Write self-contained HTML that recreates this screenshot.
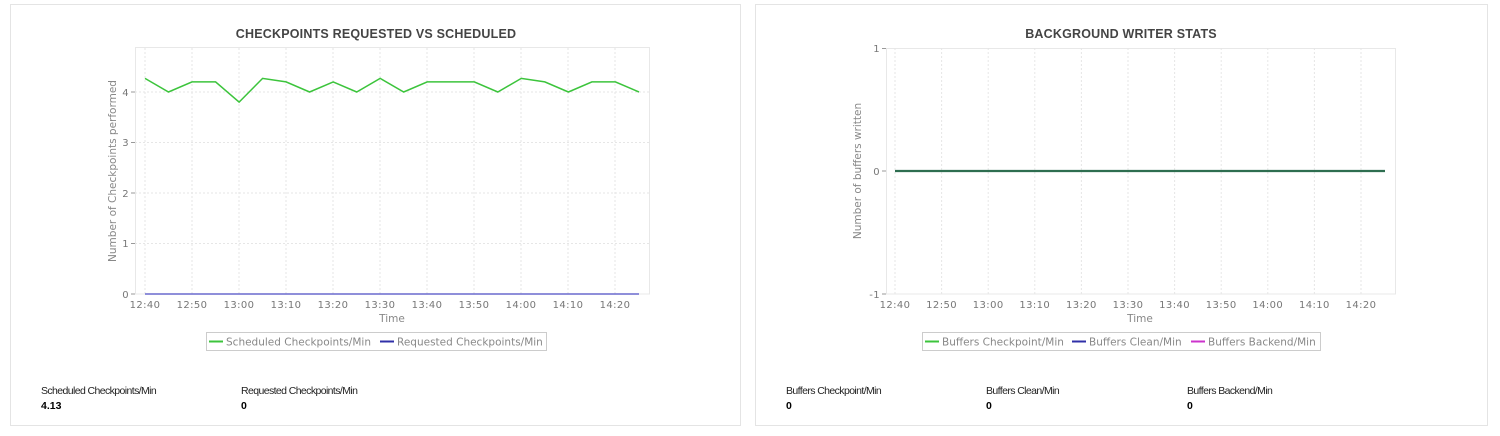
<!DOCTYPE html>
<html><head><meta charset="utf-8"><style>
html,body{margin:0;padding:0;background:#fff;width:1500px;height:436px;overflow:hidden}
svg{display:block}
text{font-family:"DejaVu Sans","Liberation Sans",sans-serif}
.t{font-family:"Liberation Sans",sans-serif;font-weight:bold;font-size:12.5px;fill:#444;letter-spacing:0.2px}
.tk{font-size:10px;fill:#777;letter-spacing:0.4px}
.lb{font-size:10.5px;fill:#888}
.lg{font-size:10.5px;fill:#888}
.s{font-family:"Liberation Sans",sans-serif;font-size:10.5px;fill:#222;letter-spacing:-0.6px}
.v{font-family:"Liberation Sans",sans-serif;font-size:10.5px;fill:#000;font-weight:bold}
.g{stroke:#e6e6e6;stroke-dasharray:2,2;stroke-width:1}
</style></head><body>
<svg width="1500" height="436" xmlns="http://www.w3.org/2000/svg">
<rect x="10.5" y="4.5" width="730" height="421" fill="#fff" stroke="#e4e4e4"/>
<rect x="755.5" y="4.5" width="732" height="421" fill="#fff" stroke="#e4e4e4"/>

<!-- LEFT CHART -->
<text class="t" x="376" y="38" text-anchor="middle">CHECKPOINTS REQUESTED VS SCHEDULED</text>
<rect x="135.5" y="47.5" width="514" height="246.5" fill="#fff" stroke="#e8e8e8"/>
<g class="g">
<line x1="145" y1="48" x2="145" y2="294"/><line x1="192" y1="48" x2="192" y2="294"/><line x1="239" y1="48" x2="239" y2="294"/><line x1="286" y1="48" x2="286" y2="294"/><line x1="333" y1="48" x2="333" y2="294"/><line x1="380" y1="48" x2="380" y2="294"/><line x1="427" y1="48" x2="427" y2="294"/><line x1="474" y1="48" x2="474" y2="294"/><line x1="521" y1="48" x2="521" y2="294"/><line x1="568" y1="48" x2="568" y2="294"/><line x1="615" y1="48" x2="615" y2="294"/>
<line x1="135" y1="92" x2="649" y2="92"/><line x1="135" y1="142.5" x2="649" y2="142.5"/><line x1="135" y1="193" x2="649" y2="193"/><line x1="135" y1="243.5" x2="649" y2="243.5"/>
</g>
<g stroke="#999"><line x1="131" y1="92" x2="135" y2="92"/><line x1="131" y1="142.5" x2="135" y2="142.5"/><line x1="131" y1="193" x2="135" y2="193"/><line x1="131" y1="243.5" x2="135" y2="243.5"/><line x1="131" y1="294" x2="135" y2="294"/></g>
<g class="tk" text-anchor="end"><text x="129" y="96">4</text><text x="129" y="146">3</text><text x="129" y="197">2</text><text x="129" y="247">1</text><text x="129" y="298">0</text></g>
<g class="tk" text-anchor="middle"><text x="145" y="308">12:40</text><text x="192" y="308">12:50</text><text x="239" y="308">13:00</text><text x="286" y="308">13:10</text><text x="333" y="308">13:20</text><text x="380" y="308">13:30</text><text x="427" y="308">13:40</text><text x="474" y="308">13:50</text><text x="521" y="308">14:00</text><text x="568" y="308">14:10</text><text x="615" y="308">14:20</text></g>
<text class="lb" x="392" y="322" text-anchor="middle">Time</text>
<text class="lb" transform="translate(116,171) rotate(-90)" text-anchor="middle">Number of Checkpoints performed</text>
<line x1="145" y1="294" x2="639" y2="294" stroke="#6a6acd" stroke-width="1.5"/>
<polyline fill="none" stroke="#3cc43c" stroke-width="1.5" points="145,78.4 168.5,92 192,81.9 215.6,81.9 239.1,102.1 262.6,78.4 286.1,81.9 309.6,92 333.2,81.9 356.7,92 380.2,78.4 403.7,92 427.2,81.9 450.8,81.9 474.3,81.9 497.8,92 521.3,78.4 544.8,81.9 568.4,92 591.9,81.9 615.4,81.9 639,92"/>
<rect x="206.5" y="332.5" width="340" height="18" fill="#fff" stroke="#ccc"/>
<line x1="209" y1="341.5" x2="223" y2="341.5" stroke="#3cc43c" stroke-width="2"/>
<text class="lg" x="226" y="345.5">Scheduled Checkpoints/Min</text>
<line x1="380" y1="341.5" x2="394" y2="341.5" stroke="#3030a8" stroke-width="2"/>
<text class="lg" x="397" y="345.5">Requested Checkpoints/Min</text>
<text class="s" x="41" y="394">Scheduled Checkpoints/Min</text>
<text class="v" x="41" y="409">4.13</text>
<text class="s" x="241" y="394">Requested Checkpoints/Min</text>
<text class="v" x="241" y="409">0</text>

<!-- RIGHT CHART -->
<text class="t" x="1121" y="38" text-anchor="middle">BACKGROUND WRITER STATS</text>
<rect x="886.5" y="48.5" width="509" height="245.5" fill="#fff" stroke="#e8e8e8"/>
<g class="g">
<line x1="895" y1="48" x2="895" y2="294"/><line x1="941.6" y1="48" x2="941.6" y2="294"/><line x1="988.2" y1="48" x2="988.2" y2="294"/><line x1="1034.8" y1="48" x2="1034.8" y2="294"/><line x1="1081.4" y1="48" x2="1081.4" y2="294"/><line x1="1128" y1="48" x2="1128" y2="294"/><line x1="1174.6" y1="48" x2="1174.6" y2="294"/><line x1="1221.2" y1="48" x2="1221.2" y2="294"/><line x1="1267.8" y1="48" x2="1267.8" y2="294"/><line x1="1314.4" y1="48" x2="1314.4" y2="294"/><line x1="1361" y1="48" x2="1361" y2="294"/>
</g>
<g stroke="#999"><line x1="882" y1="48.5" x2="886" y2="48.5"/><line x1="882" y1="171" x2="886" y2="171"/><line x1="882" y1="294" x2="886" y2="294"/></g>
<g class="tk" text-anchor="end"><text x="880" y="52">1</text><text x="880" y="175">0</text><text x="880" y="298">-1</text></g>
<g class="tk" text-anchor="middle"><text x="895" y="308">12:40</text><text x="941.6" y="308">12:50</text><text x="988.2" y="308">13:00</text><text x="1034.8" y="308">13:10</text><text x="1081.4" y="308">13:20</text><text x="1128" y="308">13:30</text><text x="1174.6" y="308">13:40</text><text x="1221.2" y="308">13:50</text><text x="1267.8" y="308">14:00</text><text x="1314.4" y="308">14:10</text><text x="1361" y="308">14:20</text></g>
<text class="lb" x="1140" y="322" text-anchor="middle">Time</text>
<text class="lb" transform="translate(861,171) rotate(-90)" text-anchor="middle">Number of buffers written</text>
<line x1="895" y1="171" x2="1385" y2="171" stroke="#2e6e50" stroke-width="2.2"/>
<rect x="922.5" y="332.5" width="398" height="18" fill="#fff" stroke="#ccc"/>
<line x1="925" y1="341.5" x2="939" y2="341.5" stroke="#3cc43c" stroke-width="2"/>
<text class="lg" x="942" y="345.5">Buffers Checkpoint/Min</text>
<line x1="1072" y1="341.5" x2="1086" y2="341.5" stroke="#3030a8" stroke-width="2"/>
<text class="lg" x="1089" y="345.5">Buffers Clean/Min</text>
<line x1="1191" y1="341.5" x2="1205" y2="341.5" stroke="#cc33cc" stroke-width="2"/>
<text class="lg" x="1208" y="345.5">Buffers Backend/Min</text>
<text class="s" x="786" y="394">Buffers Checkpoint/Min</text>
<text class="v" x="786" y="409">0</text>
<text class="s" x="986" y="394">Buffers Clean/Min</text>
<text class="v" x="986" y="409">0</text>
<text class="s" x="1187" y="394">Buffers Backend/Min</text>
<text class="v" x="1187" y="409">0</text>
</svg>
</body></html>
